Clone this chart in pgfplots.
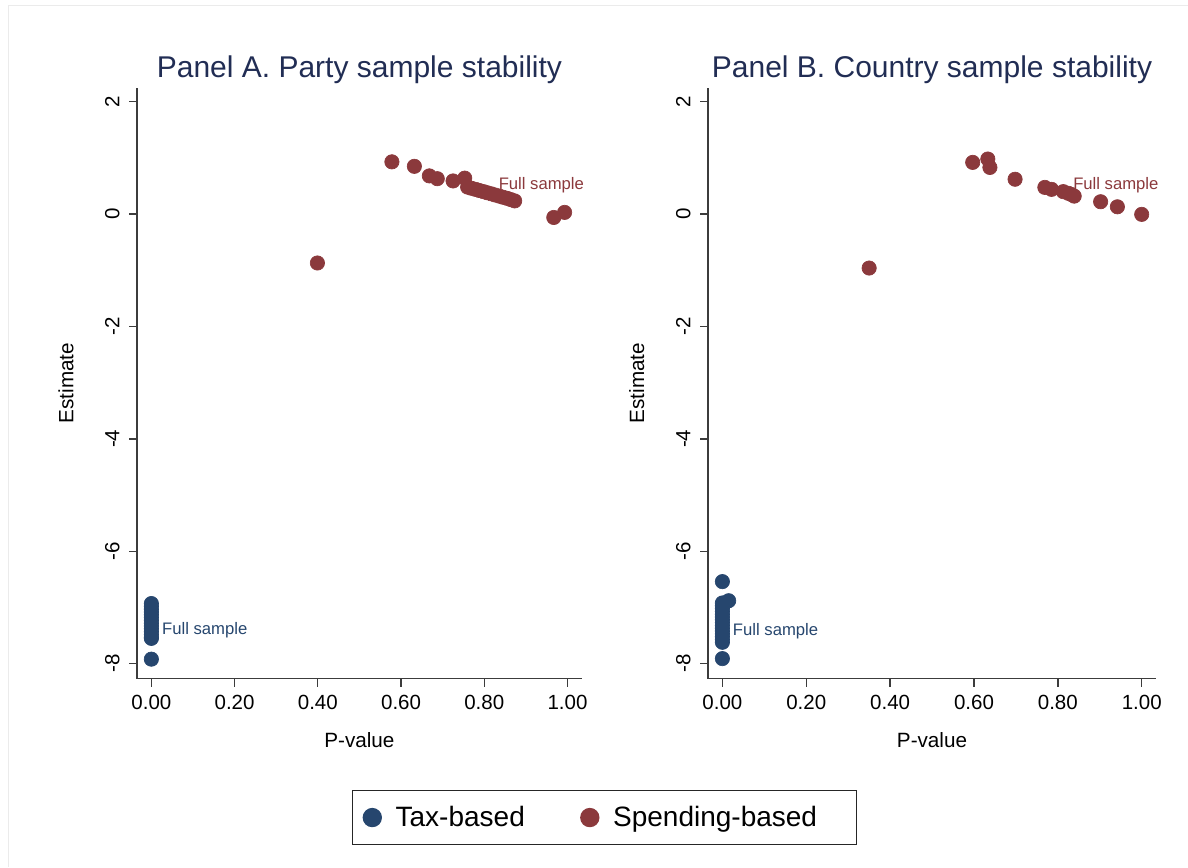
\documentclass[border=0pt]{standalone}
\usepackage{fontspec}
\setmainfont{Liberation Sans}
\usepackage{pgfplots}
\usepackage{pgfplotstable}
\pgfplotsset{compat=1.18}
\definecolor{snavy}{RGB}{38,70,110}
\definecolor{smaroon}{RGB}{139,57,60}
\definecolor{stitle}{RGB}{33,45,84}
\definecolor{saxis}{RGB}{60,60,60}

\pgfplotstableread{
x y
0.399 -0.87
0.578 0.93
0.632 0.85
0.668 0.68
0.687 0.63
0.725 0.59
0.753 0.64
0.760 0.480
0.769 0.460
0.779 0.440
0.788 0.420
0.798 0.400
0.807 0.380
0.817 0.360
0.826 0.340
0.836 0.320
0.845 0.300
0.855 0.280
0.864 0.258
0.873 0.235
0.967 -0.06
0.993 0.03
}\redA

\pgfplotstableread{
x y
0 -6.93
0 -6.98
0 -7.03
0 -7.08
0 -7.13
0 -7.18
0 -7.23
0 -7.28
0 -7.33
0 -7.38
0 -7.43
0 -7.48
0 -7.53
0 -7.55
0 -7.92
}\blueA

\pgfplotstableread{
x y
0.350 -0.96
0.597 0.92
0.633 0.98
0.638 0.83
0.698 0.62
0.769 0.475
0.785 0.44
0.813 0.40
0.825 0.37
0.832 0.35
0.839 0.32
0.902 0.22
0.942 0.13
1.000 -0.005
}\redB

\pgfplotstableread{
x y
0 -6.54
0.015 -6.88
0 -6.92
0 -6.97
0 -7.02
0 -7.07
0 -7.12
0 -7.17
0 -7.22
0 -7.27
0 -7.32
0 -7.37
0 -7.42
0 -7.47
0 -7.52
0 -7.57
0 -7.62
0 -7.91
}\blueB

\pgfplotsset{stata/.style={
  scale only axis, height=354.6pt,
  xmin=-0.0343, xmax=1.0341, ymin=-8.267, ymax=2.25,
  axis x line*=bottom, axis y line*=left,
  axis line style={saxis, line width=0.8pt, -},
  every tick/.style={saxis, line width=0.8pt},
  tick align=outside, major tick length=4.8pt,
  xtick={0,0.2,0.4,0.6,0.8,1}, ytick={-8,-6,-4,-2,0,2},
  minor tick num=0,
  /pgf/number format/assume math mode=true,
  xticklabel style={/pgf/number format/fixed, /pgf/number format/fixed zerofill, /pgf/number format/precision=2,
     anchor=base, inner sep=0pt, font=\fontsize{12.3}{14}\selectfont},
  xticklabel shift=13.6pt,
  yticklabel style={rotate=90, anchor=base, inner sep=0pt, font=\fontsize{12.3}{14}\selectfont},
  yticklabel shift=5.8pt,
  xlabel={P-value}, ylabel={Estimate},
  every axis x label/.style={at={(axis description cs:0.5,0)}, yshift=-41.5pt, anchor=base, inner sep=0pt, font=\fontsize{12.4}{14}\selectfont},
  every axis y label/.style={at={(axis description cs:0,0.5)}, xshift=-38.3pt, rotate=90, anchor=base, inner sep=0pt, font=\fontsize{12.4}{14}\selectfont},
  every axis title/.style={at={(axis description cs:0.5,1)}, yshift=5.8pt, anchor=base, inner sep=0pt, font=\fontsize{18}{21}\selectfont, text=stitle},
  clip=false,
}}

\begin{document}
\begin{tikzpicture}
\path[use as bounding box] (0,0) rectangle (712.8pt,520.2pt);
\draw[black!8, line width=0.6pt] (4.98pt,0pt) -- (4.98pt,516.8pt) -- (712.8pt,516.8pt);

\begin{axis}[stata, at={(82.26pt,113.0pt)}, anchor=south west, width=266.76pt,
  title={Panel A. Party sample stability},
  legend columns=2,
  legend image code/.code={\draw[mark size=5.4pt] plot coordinates {(0pt,0pt)};},
  legend style={at={(1.051,-0.235)}, anchor=center,
    draw=black!85, line width=0.8pt, font=\fontsize{16.8}{19}\selectfont,
    inner xsep=6.5pt, inner ysep=9.4pt, nodes={inner sep=0pt},
    /tikz/every odd column/.append style={column sep=8.6pt},
    /tikz/every even column/.append style={column sep=33.6pt}},
]
\addlegendimage{only marks, mark=*, color=snavy, mark options={draw=snavy, fill=snavy}}
\addlegendentry{Tax-based}
\addlegendimage{only marks, mark=*, color=smaroon, mark options={draw=smaroon, fill=smaroon}}
\addlegendentry{Spending-based\hspace*{17pt}}
\addplot[only marks, mark=*, mark size=4.3pt, color=snavy, mark options={draw=snavy, fill=snavy}, forget plot] table {\blueA};
\addplot[only marks, mark=*, mark size=4.3pt, color=smaroon, mark options={draw=smaroon, fill=smaroon}, forget plot] table {\redA};
\node[anchor=base west, inner sep=0pt, font=\fontsize{10}{12}\selectfont, text=smaroon] at (axis cs:0.834,0.43) {Full sample};
\node[anchor=base west, inner sep=0pt, font=\fontsize{10}{12}\selectfont, text=snavy] at (axis cs:0.025,-7.48) {Full sample};
\end{axis}

\begin{axis}[stata, at={(424.8pt,113.0pt)}, anchor=south west, width=268.8pt,
  title={Panel B. Country sample stability}]
\addplot[only marks, mark=*, mark size=4.3pt, color=snavy, mark options={draw=snavy, fill=snavy}] table {\blueB};
\addplot[only marks, mark=*, mark size=4.3pt, color=smaroon, mark options={draw=smaroon, fill=smaroon}] table {\redB};
\node[anchor=base west, inner sep=0pt, font=\fontsize{10}{12}\selectfont, text=smaroon] at (axis cs:0.836,0.44) {Full sample};
\node[anchor=base west, inner sep=0pt, font=\fontsize{10}{12}\selectfont, text=snavy] at (axis cs:0.0245,-7.49) {Full sample};
\end{axis}
\end{tikzpicture}
\end{document}
